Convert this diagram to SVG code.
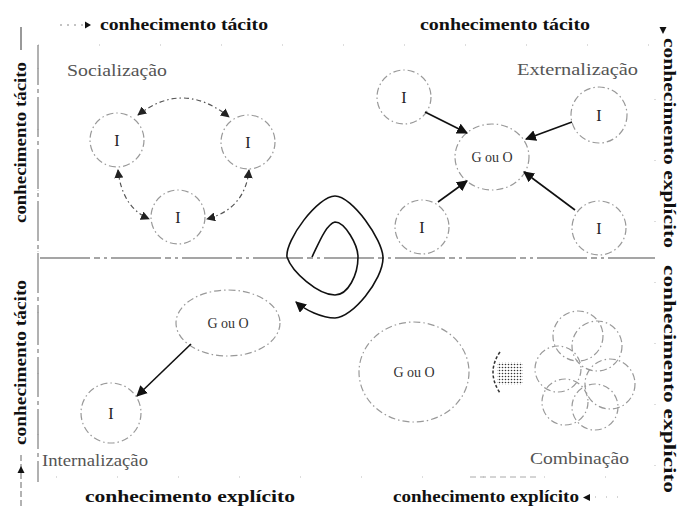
<svg xmlns="http://www.w3.org/2000/svg" width="684" height="509" viewBox="0 0 684 509">
<style>
.bold{font-family:"Liberation Serif","Times New Roman",serif;font-weight:bold;font-size:16px;fill:#111}
.quad{font-family:"Liberation Serif","Times New Roman",serif;font-size:17px;fill:#555}
.lbl{font-family:"Liberation Serif","Times New Roman",serif;font-size:16px;fill:#222;text-anchor:middle}
.go{font-family:"Liberation Serif","Times New Roman",serif;font-size:14px;fill:#333;text-anchor:middle}
.node{fill:none;stroke:#999;stroke-width:1.2;stroke-dasharray:7,3,1.5,3}
.soc{fill:none;stroke:#555;stroke-width:1.2;stroke-dasharray:5,3,1.5,3}
.solid{fill:none;stroke:#111;stroke-width:1.6}
.frame{fill:none;stroke:#bbb;stroke-width:1;stroke-dasharray:1,60}
</style>
<defs>
<marker id="ah" viewBox="0 0 10 10" refX="9" refY="5" markerWidth="11" markerHeight="11" markerUnits="userSpaceOnUse" orient="auto-start-reverse">
<path d="M0,0 L10,5 L0,10 z" fill="#111"/>
</marker>
<marker id="ahs" viewBox="0 0 10 10" refX="9" refY="5" markerWidth="9" markerHeight="9" markerUnits="userSpaceOnUse" orient="auto-start-reverse">
<path d="M0,0 L10,5 L0,10 z" fill="#222"/>
</marker>
<pattern id="dots" width="3" height="3" patternUnits="userSpaceOnUse">
<circle cx="1.5" cy="1.5" r="0.8" fill="#333"/>
</pattern>
</defs>
<rect width="684" height="509" fill="#fff"/>

<g id="frame">
<rect class="frame" x="38" y="45" width="617" height="432"/>
<line x1="38" y1="45" x2="38" y2="482" stroke="#888" stroke-width="1.3" stroke-dasharray="40,4,4,4"/>
<line x1="40" y1="258" x2="655" y2="258" stroke="#888" stroke-width="1.5" stroke-dasharray="50,4,6,4,3,4"/>
<line x1="21" y1="27" x2="21" y2="50" stroke="#555" stroke-width="1.2"/>
<line x1="470" y1="477" x2="540" y2="477" stroke="#aaa" stroke-width="1" stroke-dasharray="6,4"/>
</g>

<g id="axis-labels">
<line x1="60" y1="25" x2="84" y2="25" stroke="#888" stroke-width="1" stroke-dasharray="2,5"/>
<path d="M85,21.5 L91,25 L85,28.5 z" fill="#111"/>
<text class="bold" x="100" y="30" textLength="168" lengthAdjust="spacingAndGlyphs">conhecimento tácito</text>
<text class="bold" x="420" y="30" textLength="170" lengthAdjust="spacingAndGlyphs">conhecimento tácito</text>
<text class="bold" transform="translate(26,223) rotate(-90)" textLength="161" lengthAdjust="spacingAndGlyphs">conhecimento tácito</text>
<text class="bold" transform="translate(26,445) rotate(-90)" textLength="165" lengthAdjust="spacingAndGlyphs">conhecimento tácito</text>
<line x1="21" y1="455" x2="21" y2="509" stroke="#666" stroke-width="1" stroke-dasharray="6,3"/>
<path d="M17.5,473 L21,466 L24.5,473 z" fill="#111"/>
<path d="M659.5,27 L663,34 L666.5,27 z" fill="#111"/>
<text class="bold" transform="translate(664,38) rotate(90)" textLength="210" lengthAdjust="spacingAndGlyphs">conhecimento explícito</text>
<text class="bold" transform="translate(664,265) rotate(90)" textLength="228" lengthAdjust="spacingAndGlyphs">conhecimento explícito</text>
<text class="bold" x="85" y="502" textLength="210" lengthAdjust="spacingAndGlyphs">conhecimento explícito</text>
<text class="bold" x="393" y="502" textLength="186" lengthAdjust="spacingAndGlyphs">conhecimento explícito</text>
<path d="M590,494 L583,497.5 L590,501 z" fill="#111"/>
<line x1="595" y1="497" x2="620" y2="497" stroke="#aaa" stroke-width="1" stroke-dasharray="1,10"/>
</g>

<g id="quadrant-labels">
<text class="quad" x="67" y="76" textLength="100" lengthAdjust="spacingAndGlyphs">Socialização</text>
<text class="quad" x="517" y="75" textLength="121" lengthAdjust="spacingAndGlyphs">Externalização</text>
<text class="quad" x="42" y="466" textLength="106" lengthAdjust="spacingAndGlyphs">Internalização</text>
<text class="quad" x="530" y="464" textLength="99" lengthAdjust="spacingAndGlyphs">Combinação</text>
</g>

<g id="soc-i1"><circle class="node" cx="117" cy="140" r="27"/><text class="lbl" x="117" y="146">I</text></g>
<g id="soc-i2"><circle class="node" cx="248" cy="142" r="27"/><text class="lbl" x="248" y="148">I</text></g>
<g id="soc-i3"><circle class="node" cx="178" cy="217" r="27"/><text class="lbl" x="178" y="223">I</text></g>

<g id="ext-go"><ellipse class="node" cx="492" cy="157" rx="37" ry="33"/><text class="go" x="492" y="162">G ou O</text></g>
<g id="ext-i1"><circle class="node" cx="404" cy="97" r="27"/><text class="lbl" x="404" y="103">I</text></g>
<g id="ext-i2"><circle class="node" cx="599" cy="115" r="28"/><text class="lbl" x="599" y="121">I</text></g>
<g id="ext-i3"><circle class="node" cx="422" cy="227" r="27"/><text class="lbl" x="422" y="233">I</text></g>
<g id="ext-i4"><circle class="node" cx="599" cy="228" r="27"/><text class="lbl" x="599" y="234">I</text></g>

<g id="int-go"><ellipse class="node" cx="228" cy="323" rx="52" ry="33"/><text class="go" x="228" y="328">G ou O</text></g>
<g id="int-i"><circle class="node" cx="111" cy="413" r="30"/><text class="lbl" x="111" y="419">I</text></g>

<g id="comb-go"><ellipse class="node" cx="414" cy="372" rx="55" ry="50"/><text class="go" x="414" y="377">G ou O</text></g>
<g id="comb-arrow">
<rect x="497" y="362" width="26" height="23" fill="url(#dots)"/>
<path d="M500,352 Q486,372 500,393" fill="none" stroke="#333" stroke-width="1.5" stroke-dasharray="3,2"/>
</g>
<g id="comb-cluster">
<circle class="node" cx="578" cy="336" r="25"/>
<circle class="node" cx="597" cy="346" r="25"/>
<circle class="node" cx="558" cy="369" r="23"/>
<circle class="node" cx="610" cy="384" r="25"/>
<circle class="node" cx="565" cy="402" r="23"/>
<circle class="node" cx="595" cy="407" r="23"/>
</g>

<g id="connectors">
<path class="soc" d="M138,115 Q183,80 229,117" marker-start="url(#ahs)" marker-end="url(#ahs)"/>
<path class="soc" d="M118,170 Q122,207 149,219" marker-start="url(#ahs)" marker-end="url(#ahs)"/>
<path class="soc" d="M249,170 Q245,209 207,219" marker-start="url(#ahs)" marker-end="url(#ahs)"/>
<path class="solid" d="M425,112 L467,133" marker-end="url(#ah)"/>
<path class="solid" d="M572,122 L526,139" marker-end="url(#ah)"/>
<path class="solid" d="M438,202 L467,181" marker-end="url(#ah)"/>
<path class="solid" d="M575,210 L524,172" marker-end="url(#ah)"/>
<path class="solid" d="M191,344 L137,396" marker-end="url(#ah)"/>
<path class="solid" d="M312,257 C318,245 326,224 335,222 C345,222 358,245 358,257 C358,275 348,295 335,295 C318,295 292,272 287,257 C285,240 318,196 335,196 C352,196 383,240 383,258 C383,280 352,318 335,318 C322,318 305,310 296,302" marker-end="url(#ah)"/>
</g>
</svg>
